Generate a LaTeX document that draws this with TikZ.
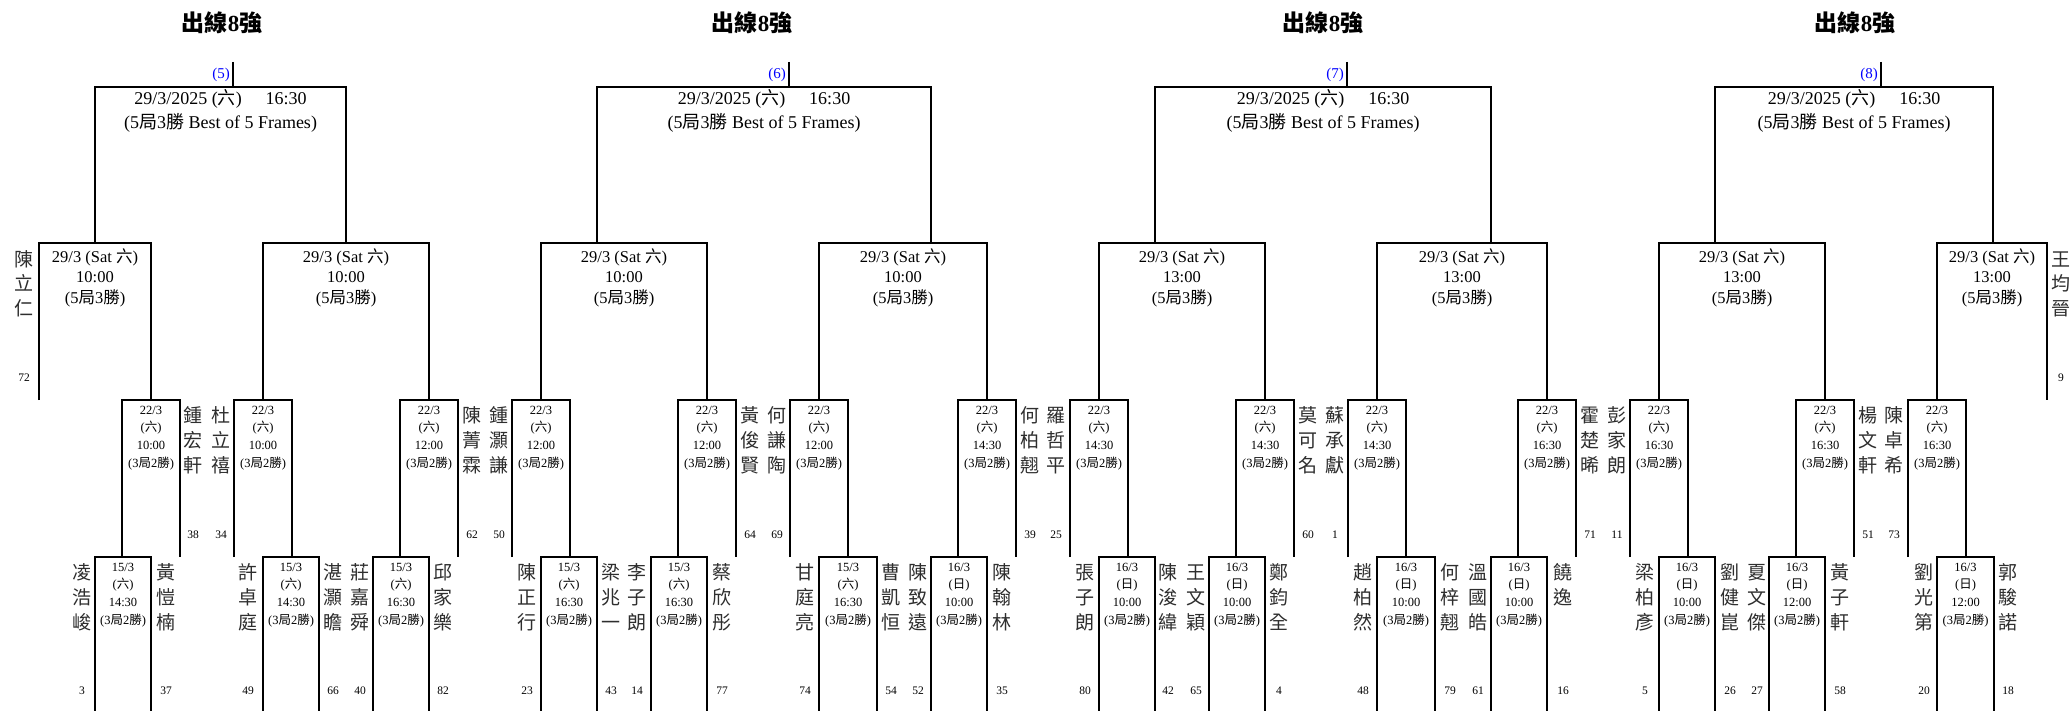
\documentclass[tikz,border=0pt]{standalone}
\usepackage{fontspec}
\setmainfont{Liberation Serif}
\newfontfamily\cjkf{Noto Sans CJK TC}
\newcommand\zhc[1]{{\cjkf #1}}
\tikzset{
  bline/.style={line width=2pt, line join=miter},
  qft/.style={font=\fontsize{18}{24}\selectfont, align=center, anchor=base, inner sep=0pt},
  rthr/.style={font=\fontsize{16.5}{20.5}\selectfont, align=center, anchor=base, inner sep=0pt},
  rlow/.style={font=\fontsize{12.5}{17.6}\selectfont, align=center, anchor=base, inner sep=0pt},
  nm/.style={font=\cjkf\fontsize{19}{25}\selectfont, text=black!82, align=center, anchor=base, inner sep=0pt},
  num/.style={font=\fontsize{11.5}{13}\selectfont, anchor=base, inner sep=0pt},
  lab/.style={font=\fontsize{15}{18}\selectfont, text=blue, anchor=base east, inner sep=0pt},
  ttl/.style={font=\fontsize{23}{26}\selectfont\bfseries, anchor=base, inner sep=0pt}
}
% multi-line nodes: anchor=base is the baseline of the LAST line
\newcommand\qf[5]{%
  \draw[bline] (#2,243) -- (#2,87) -- (#3,87) -- (#3,243);
  \coordinate (#1top) at (#4,62);
  \coordinate (#1bot) at (#4,87);
  \draw[bline] (#1top) -- (#1bot);
  \node[qft] (#1) at ({(#2+#3)/2},129) {29/3/2025 (\zhc{六})\hspace{24pt}16:30\\(5\zhc{局}3\zhc{勝} Best of 5 Frames)};
  \node[lab] (#1lab) at (#4-3,79) {(#5)};
}
\newcommand\rthree[4]{%
  \draw[bline] (#2,400) -- (#2,243) -- (#3,243) -- (#3,400);
  \node[rthr] (#1) at ({(#2+#3)/2},303) {29/3 (Sat \zhc{六})\\#4\\(5\zhc{局}3\zhc{勝})};
}
\newcommand\rtwo[4]{%
  \draw[bline] (#2,557) -- (#2,400) -- (#3,400) -- (#3,557);
  \node[rlow] (#1) at ({(#2+#3)/2},467) {22/3\\(\zhc{六})\\#4\\(3\zhc{局}2\zhc{勝})};
}
\newcommand\rone[6]{%
  \draw[bline] (#2,711) -- (#2,557) -- (#3,557) -- (#3,711);
  \node[rlow] (#1) at ({(#2+#3)/2},624) {#4\\(\zhc{#5})\\#6\\(3\zhc{局}2\zhc{勝})};
}
% players: id, x, name, number
\newcommand\pa[4]{\node[nm] (#1) at (#2,629) {#3}; \node[num] (#1n) at (#2,694) {#4};}
\newcommand\pb[4]{\node[nm] (#1) at (#2,472) {#3}; \node[num] (#1n) at (#2,538) {#4};}
\newcommand\pc[4]{\node[nm] (#1) at (#2,316) {#3}; \node[num] (#1n) at (#2,381) {#4};}
\begin{document}
\begin{tikzpicture}[x=1pt,y=-1pt]
\fill[white] (0,0) rectangle (2071,711);
\useasboundingbox (0,0) rectangle (2071,711);
% titles
\node[ttl] (h5) at (222,32) {\zhc{出線}8\zhc{強}};
\node[ttl] (h6) at (752,32) {\zhc{出線}8\zhc{強}};
\node[ttl] (h7) at (1323,32) {\zhc{出線}8\zhc{強}};
\node[ttl] (h8) at (1855,32) {\zhc{出線}8\zhc{強}};
% ---------- section 5
\qf{q5}{95}{346}{233}{5}
\rthree{s5a}{39}{151}{10:00}
\rthree{s5b}{263}{429}{10:00}
\rtwo{t5a}{122}{180}{10:00}
\rtwo{t5b}{234}{292}{10:00}
\rtwo{t5c}{400}{458}{12:00}
\rone{u5a}{95}{151}{15/3}{六}{14:30}
\rone{u5b}{263}{319}{15/3}{六}{14:30}
\rone{u5c}{373}{429}{15/3}{六}{16:30}
\pc{p1}{24}{陳\\立\\仁}{72}
\pb{p2}{193}{鍾\\宏\\軒}{38}
\pb{p3}{221}{杜\\立\\禧}{34}
\pb{p4}{472}{陳\\菁\\霖}{62}
\pa{p5}{82}{凌\\浩\\峻}{3}
\pa{p6}{166}{黃\\愷\\楠}{37}
\pa{p7}{248}{許\\卓\\庭}{49}
\pa{p8}{333}{湛\\灝\\瞻}{66}
\pa{p9}{360}{莊\\嘉\\舜}{40}
\pa{p10}{443}{邱\\家\\樂}{82}
% ---------- section 6
\qf{q6}{597}{931}{789}{6}
\rthree{s6a}{541}{707}{10:00}
\rthree{s6b}{819}{987}{10:00}
\rtwo{t6a}{512}{570}{12:00}
\rtwo{t6b}{678}{736}{12:00}
\rtwo{t6c}{790}{848}{12:00}
\rtwo{t6d}{958}{1016}{14:30}
\rone{u6a}{541}{597}{15/3}{六}{16:30}
\rone{u6b}{651}{707}{15/3}{六}{16:30}
\rone{u6c}{819}{877}{15/3}{六}{16:30}
\rone{u6d}{931}{987}{16/3}{日}{10:00}
\pb{p11}{499}{鍾\\灝\\謙}{50}
\pb{p12}{750}{黃\\俊\\賢}{64}
\pb{p13}{777}{何\\謙\\陶}{69}
\pb{p14}{1030}{何\\柏\\翹}{39}
\pa{p15}{527}{陳\\正\\行}{23}
\pa{p16}{611}{梁\\兆\\一}{43}
\pa{p17}{637}{李\\子\\朗}{14}
\pa{p18}{722}{蔡\\欣\\彤}{77}
\pa{p19}{805}{甘\\庭\\亮}{74}
\pa{p20}{891}{曹\\凱\\恒}{54}
\pa{p21}{918}{陳\\致\\遠}{52}
\pa{p22}{1002}{陳\\翰\\林}{35}
% ---------- section 7
\qf{q7}{1155}{1491}{1347}{7}
\rthree{s7a}{1099}{1265}{13:00}
\rthree{s7b}{1377}{1547}{13:00}
\rtwo{t7a}{1070}{1128}{14:30}
\rtwo{t7b}{1236}{1294}{14:30}
\rtwo{t7c}{1348}{1406}{14:30}
\rtwo{t7d}{1518}{1576}{16:30}
\rone{u7a}{1099}{1155}{16/3}{日}{10:00}
\rone{u7b}{1209}{1265}{16/3}{日}{10:00}
\rone{u7c}{1377}{1435}{16/3}{日}{10:00}
\rone{u7d}{1491}{1547}{16/3}{日}{10:00}
\pb{p23}{1056}{羅\\哲\\平}{25}
\pb{p24}{1308}{莫\\可\\名}{60}
\pb{p25}{1335}{蘇\\承\\獻}{1}
\pb{p26}{1590}{霍\\楚\\晞}{71}
\pa{p27}{1085}{張\\子\\朗}{80}
\pa{p28}{1168}{陳\\浚\\緯}{42}
\pa{p29}{1196}{王\\文\\穎}{65}
\pa{p30}{1279}{鄭\\鈞\\全}{4}
\pa{p31}{1363}{趙\\柏\\然}{48}
\pa{p32}{1450}{何\\梓\\翹}{79}
\pa{p33}{1478}{溫\\國\\皓}{61}
\node[nm] (p34) at (1563,604) {饒\\逸};
\node[num] (p34n) at (1563,694) {16};
% ---------- section 8
\qf{q8}{1715}{1993}{1881}{8}
\rthree{s8a}{1659}{1825}{13:00}
\rthree{s8b}{1937}{2047}{13:00}
\rtwo{t8a}{1630}{1688}{16:30}
\rtwo{t8b}{1796}{1854}{16:30}
\rtwo{t8c}{1908}{1966}{16:30}
\rone{u8a}{1659}{1715}{16/3}{日}{10:00}
\rone{u8b}{1769}{1825}{16/3}{日}{12:00}
\rone{u8c}{1937}{1994}{16/3}{日}{12:00}
\pc{p35}{2061}{王\\均\\晉}{9}
\pb{p36}{1617}{彭\\家\\朗}{11}
\pb{p37}{1868}{楊\\文\\軒}{51}
\pb{p38}{1894}{陳\\卓\\希}{73}
\pa{p39}{1645}{梁\\柏\\彥}{5}
\pa{p40}{1730}{劉\\健\\崑}{26}
\pa{p41}{1757}{夏\\文\\傑}{27}
\pa{p42}{1840}{黃\\子\\軒}{58}
\pa{p43}{1924}{劉\\光\\第}{20}
\pa{p44}{2008}{郭\\駿\\諾}{18}
\end{tikzpicture}
\end{document}
